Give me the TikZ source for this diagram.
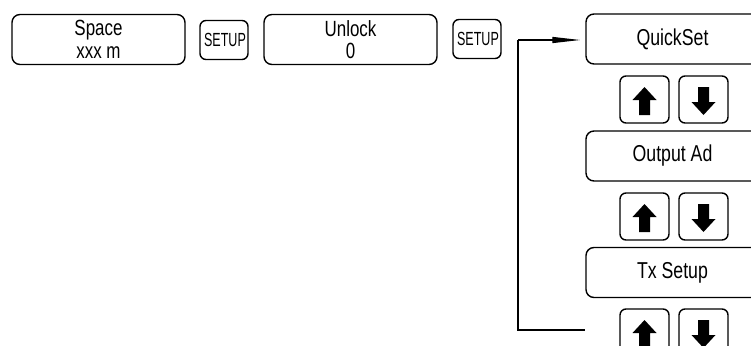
\documentclass[tikz,border=0pt]{standalone}
\usepackage{fontspec}
\setmainfont{Liberation Sans}[FakeStretch=0.77]
\newfontfamily\setupfont{Liberation Sans}[FakeStretch=0.66]
\usetikzlibrary{arrows.meta,calc}
\begin{document}
\begin{tikzpicture}[x=1pt,y=-1pt,
  bigbox/.style={draw,line width=1.4pt,rounded corners=8pt,minimum width=173pt,minimum height=50pt,inner sep=0pt,align=center,font=\fontsize{23}{23}\selectfont},
  twoline/.style={font=\fontsize{22}{22.5}\selectfont},
  setupbox/.style={draw,line width=1.4pt,rounded corners=6pt,minimum width=48pt,minimum height=39pt,inner sep=0pt,font=\setupfont\fontsize{19}{19}\selectfont},
  btn/.style={draw,line width=1.4pt,rounded corners=6pt,minimum width=49pt,minimum height=47pt,inner sep=0pt},
  conn/.style={line width=1.2pt},
  upglyph/.pic={\fill (0,-14) -- (12,-1) -- (5.5,-1) -- (5.5,14) -- (-5.5,14) -- (-5.5,-1) -- (-12,-1) -- cycle;},
  downglyph/.pic={\fill (0,14) -- (12,1) -- (5.5,1) -- (5.5,-14) -- (-5.5,-14) -- (-5.5,1) -- (-12,1) -- cycle;}
]
\useasboundingbox (0,0) rectangle (751,345);
\clip (0,0) rectangle (751,345);
\node[bigbox,twoline] (space) at (98.5,39.5) {Space\\xxx m};
\node[setupbox] (setupa) at (224,40) {\hspace*{2pt}SETUP};
\node[bigbox,twoline] (unlock) at (350.5,39.5) {Unlock\\0};
\node[setupbox] (setupb) at (477,39) {\hspace*{2pt}SETUP};
\node[bigbox] (quick) at (672.5,39) {QuickSet};
\node[bigbox] (output) at (672.5,156) {Output Ad};
\node[bigbox] (tx) at (672.5,272.5) {Tx Setup};
\foreach \n/\y in {a/99.5,b/216.5,c/332.5}{
  \node[btn] (up\n) at (644.5,\y) {};
  \node[btn] (down\n) at (703.5,\y) {};
  \pic at ($(up\n.center)+(0,1.5)$) {upglyph};
  \pic at ($(down\n.center)+(0,1.5)$) {downglyph};
}
\coordinate (top) at (518,40);
\coordinate (bot) at (518,330);
\coordinate (botend) at (tx.west |- bot);
\draw[conn,-{Triangle[length=28pt,width=6pt]}] (top) -- ($(quick.west)+(-5,1)$);
\draw[conn] (top) -- (bot) -- (botend);
\end{tikzpicture}
\end{document}
